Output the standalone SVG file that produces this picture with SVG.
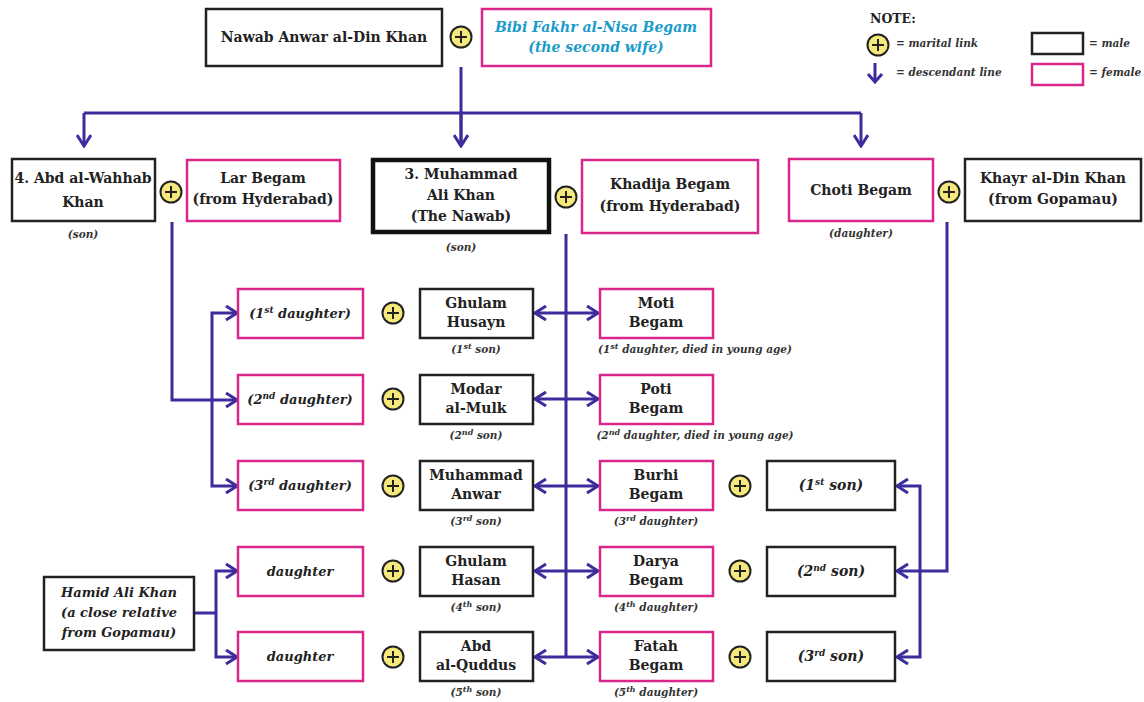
<svg xmlns="http://www.w3.org/2000/svg" width="1144" height="702" viewBox="0 0 1144 702">
<style>
  .m{fill:#fff;stroke:#222;stroke-width:2.5}
  .f{fill:#fff;stroke:#d9268a;stroke-width:2.5}
  .t{font-family:"DejaVu Serif","Liberation Serif",serif;font-weight:bold;font-size:14px;fill:#222;text-anchor:middle}
  .i{font-family:"DejaVu Serif","Liberation Serif",serif;font-weight:bold;font-style:italic;font-size:13px;fill:#222;text-anchor:middle}
  .c{font-family:"DejaVu Serif","Liberation Serif",serif;font-weight:bold;font-style:italic;font-size:10.5px;fill:#333;text-anchor:middle}
  .l{font-family:"DejaVu Serif","Liberation Serif",serif;font-weight:bold;font-style:italic;font-size:10.5px;fill:#333}
  .ln{fill:none;stroke:#3b2d9c;stroke-width:3}
  .pc{fill:#f6e97c;stroke:#222;stroke-width:2}
  .pp{stroke:#222;stroke-width:2}
</style>
<defs>
  <marker id="ah" viewBox="0 0 14 16" refX="12" refY="8" markerWidth="14" markerHeight="16" markerUnits="userSpaceOnUse" orient="auto-start-reverse">
    <path d="M1,1 L12,8 L1,15" fill="none" stroke="#3b2d9c" stroke-width="3"/>
  </marker>
  <g id="plus">
    <circle r="10.5" class="pc"/>
    <path d="M-6,0 H6 M0,-6 V6" class="pp"/>
  </g>
</defs>
<rect width="1144" height="702" fill="#fff"/>

<!-- connectors -->
<g id="connectors" class="ln">
  <path d="M461,67 V146"/>
  <path d="M84,113 H861" />
  <path d="M84,113 V146" marker-end="url(#ah)"/>
  <path d="M461,113 V146" marker-end="url(#ah)"/>
  <path d="M861,113 V146" marker-end="url(#ah)"/>
  <path d="M172,222 V400 H237" marker-end="url(#ah)"/>
  <path d="M237,313 H212 V486 H237" marker-start="url(#ah)" marker-end="url(#ah)"/>
  <path d="M566,234 V657"/>
  <path d="M535,313 H598" marker-start="url(#ah)" marker-end="url(#ah)"/>
  <path d="M535,399 H598" marker-start="url(#ah)" marker-end="url(#ah)"/>
  <path d="M535,486 H598" marker-start="url(#ah)" marker-end="url(#ah)"/>
  <path d="M535,571 H598" marker-start="url(#ah)" marker-end="url(#ah)"/>
  <path d="M535,657 H598" marker-start="url(#ah)" marker-end="url(#ah)"/>
  <path d="M947,222 V571 H920"/>
  <path d="M897,486 H920 V657 H897" marker-start="url(#ah)" marker-end="url(#ah)"/>
  <path d="M920,571 H897" marker-end="url(#ah)"/>
  <path d="M194,613 H216"/>
  <path d="M237,571 H216 V657 H237" marker-start="url(#ah)" marker-end="url(#ah)"/>
</g>

<!-- marital links -->
<g id="marital">
  <use href="#plus" x="461" y="37"/>
  <use href="#plus" x="171" y="192"/>
  <use href="#plus" x="566" y="197"/>
  <use href="#plus" x="949" y="192"/>
  <use href="#plus" x="393" y="313"/>
  <use href="#plus" x="393" y="399"/>
  <use href="#plus" x="393" y="486"/>
  <use href="#plus" x="393" y="571"/>
  <use href="#plus" x="393" y="657"/>
  <use href="#plus" x="740" y="486"/>
  <use href="#plus" x="740" y="571"/>
  <use href="#plus" x="740" y="657"/>
</g>

<g id="n-anwar">
  <rect x="206" y="9" width="236" height="57" class="m"/>
  <text x="324" y="42" class="t">Nawab Anwar al-Din Khan</text>
</g>
<g id="n-bibi">
  <rect x="482" y="9" width="229" height="57" class="f"/>
  <text x="596" y="32" class="i" style="fill:#1b9bc9;font-size:14px">Bibi Fakhr al-Nisa Begam</text>
  <text x="596" y="52" class="i" style="fill:#1b9bc9;font-size:14px">(the second wife)</text>
</g>

<g id="n-abd">
  <rect x="12" y="159" width="143" height="62" class="m"/>
  <text x="83" y="183" class="t">4. Abd al-Wahhab</text>
  <text x="83" y="207" class="t">Khan</text>
  <text x="83" y="238" class="c">(son)</text>
</g>
<g id="n-lar">
  <rect x="187" y="160" width="153" height="61" class="f"/>
  <text x="263" y="183" class="t">Lar Begam</text>
  <text x="263" y="204" class="t">(from Hyderabad)</text>
</g>
<g id="n-muhammad-ali">
  <rect x="373" y="160" width="176" height="72" fill="#fff" stroke="#111" stroke-width="4.5"/>
  <text x="461" y="179" class="t">3. Muhammad</text>
  <text x="461" y="200" class="t">Ali Khan</text>
  <text x="461" y="221" class="t">(The Nawab)</text>
  <text x="461" y="251" class="c">(son)</text>
</g>
<g id="n-khadija">
  <rect x="582" y="160" width="176" height="73" class="f"/>
  <text x="670" y="189" class="t">Khadija Begam</text>
  <text x="670" y="211" class="t">(from Hyderabad)</text>
</g>
<g id="n-choti">
  <rect x="789" y="159" width="144" height="62" class="f"/>
  <text x="861" y="195" class="t">Choti Begam</text>
  <text x="861" y="237" class="c">(daughter)</text>
</g>
<g id="n-khayr">
  <rect x="965" y="159" width="176" height="62" class="m"/>
  <text x="1053" y="183" class="t">Khayr al-Din Khan</text>
  <text x="1053" y="204" class="t">(from Gopamau)</text>
</g>

<g id="n-d1">
  <rect x="238" y="289" width="125" height="49" class="f"/>
  <text x="300" y="318" class="i">(1<tspan dy="-5" font-size="9">st</tspan><tspan dy="5"> daughter)</tspan></text>
</g>
<g id="n-d2">
  <rect x="238" y="375" width="125" height="49" class="f"/>
  <text x="300" y="404" class="i">(2<tspan dy="-5" font-size="9">nd</tspan><tspan dy="5"> daughter)</tspan></text>
</g>
<g id="n-d3">
  <rect x="238" y="461" width="125" height="49" class="f"/>
  <text x="300" y="490" class="i">(3<tspan dy="-5" font-size="9">rd</tspan><tspan dy="5"> daughter)</tspan></text>
</g>
<g id="n-hd1">
  <rect x="238" y="547" width="125" height="49" class="f"/>
  <text x="300" y="576" class="i">daughter</text>
</g>
<g id="n-hd2">
  <rect x="238" y="632" width="125" height="49" class="f"/>
  <text x="300" y="661" class="i">daughter</text>
</g>

<g id="n-hamid">
  <rect x="44" y="577" width="150" height="73" class="m"/>
  <text x="119" y="597" class="i" style="font-weight:600">Hamid Ali Khan</text>
  <text x="119" y="617" class="i" style="font-weight:600">(a close relative</text>
  <text x="119" y="637" class="i" style="font-weight:600">from Gopamau)</text>
</g>

<g id="n-s1">
  <rect x="420" y="289" width="113" height="49" class="m"/>
  <text x="476" y="308" class="t">Ghulam</text>
  <text x="476" y="327" class="t">Husayn</text>
  <text x="476" y="353" class="c">(1<tspan dy="-4" font-size="8">st</tspan><tspan dy="4"> son)</tspan></text>
</g>
<g id="n-s2">
  <rect x="420" y="375" width="113" height="49" class="m"/>
  <text x="476" y="394" class="t">Modar</text>
  <text x="476" y="413" class="t">al-Mulk</text>
  <text x="476" y="439" class="c">(2<tspan dy="-4" font-size="8">nd</tspan><tspan dy="4"> son)</tspan></text>
</g>
<g id="n-s3">
  <rect x="420" y="461" width="113" height="49" class="m"/>
  <text x="476" y="480" class="t">Muhammad</text>
  <text x="476" y="499" class="t">Anwar</text>
  <text x="476" y="525" class="c">(3<tspan dy="-4" font-size="8">rd</tspan><tspan dy="4"> son)</tspan></text>
</g>
<g id="n-s4">
  <rect x="420" y="547" width="113" height="49" class="m"/>
  <text x="476" y="566" class="t">Ghulam</text>
  <text x="476" y="585" class="t">Hasan</text>
  <text x="476" y="611" class="c">(4<tspan dy="-4" font-size="8">th</tspan><tspan dy="4"> son)</tspan></text>
</g>
<g id="n-s5">
  <rect x="420" y="632" width="113" height="49" class="m"/>
  <text x="476" y="651" class="t">Abd</text>
  <text x="476" y="670" class="t">al-Quddus</text>
  <text x="476" y="696" class="c">(5<tspan dy="-4" font-size="8">th</tspan><tspan dy="4"> son)</tspan></text>
</g>

<g id="n-moti">
  <rect x="600" y="289" width="113" height="49" class="f"/>
  <text x="656" y="308" class="t">Moti</text>
  <text x="656" y="327" class="t">Begam</text>
  <text x="695" y="353" class="c">(1<tspan dy="-4" font-size="8">st</tspan><tspan dy="4"> daughter, died in young age)</tspan></text>
</g>
<g id="n-poti">
  <rect x="600" y="375" width="113" height="49" class="f"/>
  <text x="656" y="394" class="t">Poti</text>
  <text x="656" y="413" class="t">Begam</text>
  <text x="695" y="439" class="c">(2<tspan dy="-4" font-size="8">nd</tspan><tspan dy="4"> daughter, died in young age)</tspan></text>
</g>
<g id="n-burhi">
  <rect x="600" y="461" width="113" height="49" class="f"/>
  <text x="656" y="480" class="t">Burhi</text>
  <text x="656" y="499" class="t">Begam</text>
  <text x="656" y="525" class="c">(3<tspan dy="-4" font-size="8">rd</tspan><tspan dy="4"> daughter)</tspan></text>
</g>
<g id="n-darya">
  <rect x="600" y="547" width="113" height="49" class="f"/>
  <text x="656" y="566" class="t">Darya</text>
  <text x="656" y="585" class="t">Begam</text>
  <text x="656" y="611" class="c">(4<tspan dy="-4" font-size="8">th</tspan><tspan dy="4"> daughter)</tspan></text>
</g>
<g id="n-fatah">
  <rect x="600" y="632" width="113" height="49" class="f"/>
  <text x="656" y="651" class="t">Fatah</text>
  <text x="656" y="670" class="t">Begam</text>
  <text x="656" y="696" class="c">(5<tspan dy="-4" font-size="8">th</tspan><tspan dy="4"> daughter)</tspan></text>
</g>

<g id="n-cs1">
  <rect x="767" y="461" width="128" height="49" class="m"/>
  <text x="831" y="490" class="i" style="font-size:14px">(1<tspan dy="-5" font-size="9">st</tspan><tspan dy="5"> son)</tspan></text>
</g>
<g id="n-cs2">
  <rect x="767" y="547" width="128" height="49" class="m"/>
  <text x="831" y="576" class="i" style="font-size:14px">(2<tspan dy="-5" font-size="9">nd</tspan><tspan dy="5"> son)</tspan></text>
</g>
<g id="n-cs3">
  <rect x="767" y="632" width="128" height="49" class="m"/>
  <text x="831" y="661" class="i" style="font-size:14px">(3<tspan dy="-5" font-size="9">rd</tspan><tspan dy="5"> son)</tspan></text>
</g>

<g id="legend">
  <text x="870" y="23" class="t" style="text-anchor:start;font-size:12.5px">NOTE:</text>
  <use href="#plus" x="878" y="45"/>
  <text x="896" y="47" class="l">= marital link</text>
  <path d="M875,63 V82" class="ln"/>
  <path d="M868,74 L875,82 L882,74" fill="none" stroke="#3b2d9c" stroke-width="3"/>
  <text x="896" y="76" class="l">= descendant line</text>
  <rect x="1032" y="33" width="51" height="21" class="m"/>
  <text x="1089" y="47" class="l">= male</text>
  <rect x="1032" y="64" width="51" height="21" class="f"/>
  <text x="1089" y="76" class="l">= female</text>
</g>
</svg>
